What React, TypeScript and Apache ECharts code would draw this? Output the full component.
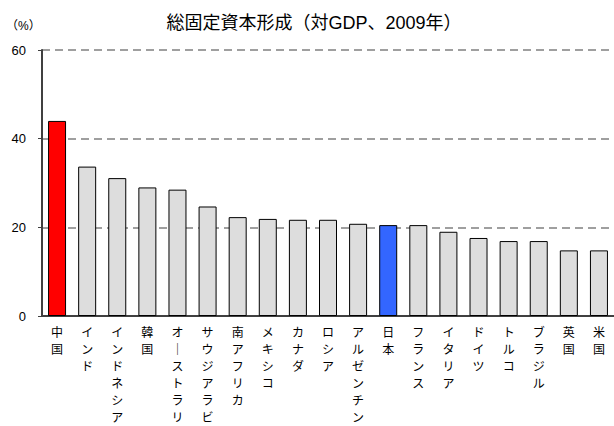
import { useEffect, useRef } from "react";
import * as echarts from "echarts";

const countries = [
  "中国", "インド", "インドネシア", "韓国", "オーストラリ", "サウジアラビ",
  "南アフリカ", "メキシコ", "カナダ", "ロシア", "アルゼンチン", "日本",
  "フランス", "イタリア", "ドイツ", "トルコ", "ブラジル", "英国", "米国",
];
const shares = [
  44.0, 33.7, 31.1, 29.0, 28.5, 24.7, 22.3, 21.9, 21.7, 21.7, 20.8, 20.5,
  20.5, 19.0, 17.6, 16.9, 16.9, 14.8, 14.8,
];
const highlight: Record<string, string> = { 中国: "#ff0000", 日本: "#3366ff" };

const FONT = "Liberation Sans, Noto Sans CJK JP, sans-serif";

export default function App() {
  const ref = useRef<HTMLDivElement>(null);

  useEffect(() => {
    document.body.style.margin = "0";
    if (!ref.current) return;
    const chart = echarts.init(ref.current, null, { renderer: "svg" });

    chart.setOption({
      animation: false,
      textStyle: { fontFamily: FONT },
      title: {
        text: "総固定資本形成（対GDP、2009年）",
        left: 309,
        textAlign: "center",
        top: 9,
        textStyle: { fontSize: 18, fontWeight: "normal", color: "#000", fontFamily: FONT },
      },
      graphic: [
        {
          type: "text",
          left: 6,
          top: 20,
          style: { text: "（%）", fill: "#000", font: `12px ${FONT}` },
        },
      ],
      grid: { left: 42, top: 50, width: 575, height: 267 },
      xAxis: {
        type: "category",
        data: countries,
        axisLine: { lineStyle: { color: "#404040", width: 2 } },
        axisTick: { show: false },
        axisLabel: {
          interval: 0,
          margin: 8,
          fontSize: 12,
          lineHeight: 17,
          color: "#000",
          verticalAlign: "top",
          formatter: (v: string) => v.replace(/ー/g, "｜").split("").join("\n"),
        },
      },
      yAxis: {
        type: "value",
        min: 0,
        max: 60,
        interval: 20,
        axisLine: { show: true, lineStyle: { color: "#404040", width: 2 } },
        axisTick: { show: true, length: 4, lineStyle: { color: "#404040" } },
        axisLabel: { fontSize: 13, color: "#000", margin: 16 },
        splitLine: {
          lineStyle: { color: "#808080", type: [8, 5], width: 1.5 },
        },
      },
      series: [
        {
          type: "bar",
          barWidth: 18,
          data: shares.map((v, i) => ({
            value: v,
            itemStyle: {
              color: highlight[countries[i]] ?? "#dddddd",
              borderColor: "#000",
              borderWidth: 1,
            },
          })),
        },
      ],
    });

    return () => chart.dispose();
  }, []);

  return <div ref={ref} style={{ width: 614, height: 426 }} />;
}
